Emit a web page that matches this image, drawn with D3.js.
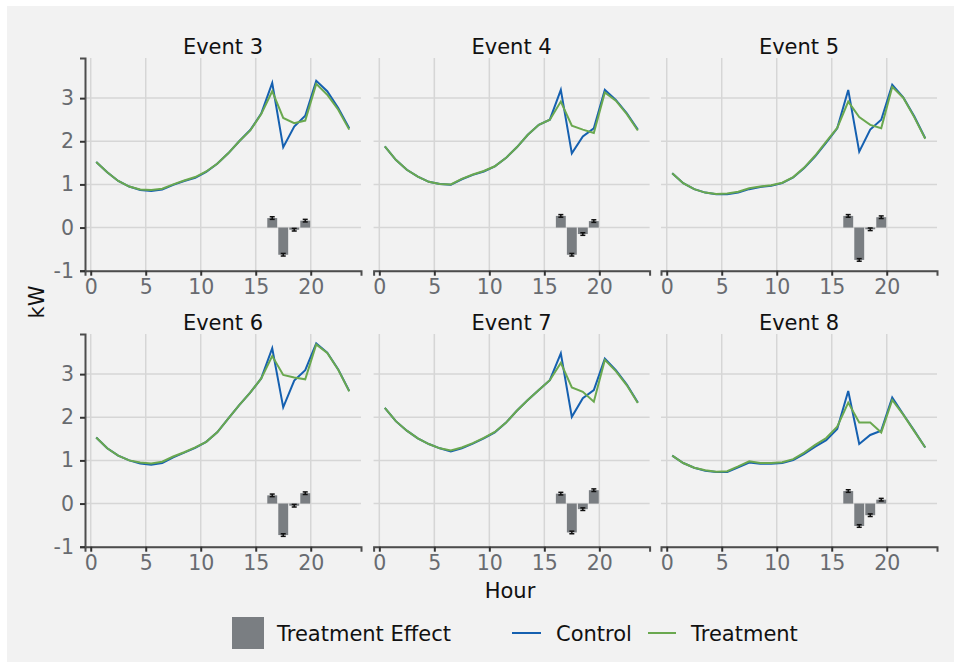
<!DOCTYPE html>
<html>
<head>
<meta charset="utf-8">
<script src="https://cdn.jsdelivr.net/npm/d3@7"></script>
<style>
  body { margin: 0; background: #fff; }
  svg { display: block; font-family: "DejaVu Sans", sans-serif; }
</style>
</head>
<body>
<svg id="chart" width="954" height="662"></svg>
<script>
// hourly load profiles, kW
const hours = [0.5, 1.5, 2.5, 3.5, 4.5, 5.5, 6.5, 7.5, 8.5, 9.5, 10.5, 11.5,
  12.5, 13.5, 14.5, 15.5, 16.5, 17.5, 18.5, 19.5, 20.5, 21.5, 22.5, 23.5];
const effectHours = [16.5, 17.5, 18.5, 19.5];
const eventNames = ["Event 3", "Event 4", "Event 5", "Event 6", "Event 7", "Event 8"];
const xTicks = [0, 5, 10, 15, 20];
const yTicks = [-1, 0, 1, 2, 3];

const control3 = [1.52, 1.28, 1.08, 0.95, 0.87, 0.85, 0.88, 0.99, 1.08, 1.15, 1.29, 1.48, 1.72, 2.0, 2.26, 2.64, 3.35, 1.86, 2.34, 2.59, 3.40, 3.16, 2.77, 2.30];
const treatment3 = [1.52, 1.28, 1.08, 0.95, 0.88, 0.87, 0.90, 1.00, 1.09, 1.17, 1.30, 1.48, 1.72, 2.0, 2.25, 2.63, 3.16, 2.54, 2.42, 2.48, 3.33, 3.08, 2.73, 2.27];
const effect3 = [0.22, -0.63, -0.05, 0.16];

const control4 = [1.88, 1.57, 1.34, 1.18, 1.06, 1.01, 0.99, 1.12, 1.22, 1.30, 1.42, 1.61, 1.86, 2.15, 2.38, 2.50, 3.19, 1.72, 2.11, 2.30, 3.19, 2.96, 2.65, 2.27];
const treatment4 = [1.88, 1.57, 1.34, 1.18, 1.06, 1.01, 1.00, 1.13, 1.23, 1.31, 1.42, 1.61, 1.86, 2.15, 2.38, 2.50, 2.92, 2.36, 2.27, 2.19, 3.13, 2.94, 2.63, 2.25];
const effect4 = [0.27, -0.63, -0.15, 0.15];

const control5 = [1.26, 1.03, 0.89, 0.81, 0.77, 0.77, 0.81, 0.89, 0.94, 0.97, 1.03, 1.16, 1.38, 1.65, 1.97, 2.30, 3.19, 1.76, 2.27, 2.50, 3.31, 3.02, 2.58, 2.07];
const treatment5 = [1.26, 1.03, 0.89, 0.81, 0.78, 0.79, 0.83, 0.91, 0.95, 0.98, 1.04, 1.17, 1.39, 1.67, 1.99, 2.31, 2.92, 2.56, 2.38, 2.30, 3.26, 3.01, 2.56, 2.06];
const effect5 = [0.27, -0.75, -0.04, 0.24];

const control6 = [1.53, 1.28, 1.11, 1.00, 0.93, 0.90, 0.94, 1.07, 1.18, 1.29, 1.43, 1.65, 1.97, 2.28, 2.57, 2.90, 3.60, 2.23, 2.85, 3.09, 3.71, 3.50, 3.11, 2.61];
const treatment6 = [1.53, 1.28, 1.11, 1.00, 0.95, 0.93, 0.97, 1.09, 1.19, 1.30, 1.43, 1.65, 1.97, 2.28, 2.57, 2.90, 3.42, 2.98, 2.92, 2.88, 3.69, 3.49, 3.10, 2.60];
const effect6 = [0.19, -0.73, -0.05, 0.24];

const control7 = [2.22, 1.91, 1.69, 1.51, 1.38, 1.28, 1.21, 1.28, 1.39, 1.51, 1.65, 1.87, 2.15, 2.40, 2.63, 2.86, 3.48, 2.01, 2.44, 2.63, 3.36, 3.09, 2.76, 2.34];
const treatment7 = [2.22, 1.91, 1.69, 1.51, 1.38, 1.28, 1.23, 1.30, 1.40, 1.52, 1.66, 1.87, 2.15, 2.40, 2.63, 2.86, 3.26, 2.69, 2.59, 2.36, 3.33, 3.07, 2.74, 2.33];
const effect7 = [0.23, -0.67, -0.13, 0.31];

const control8 = [1.11, 0.94, 0.83, 0.76, 0.73, 0.73, 0.84, 0.95, 0.92, 0.92, 0.94, 1.01, 1.15, 1.32, 1.47, 1.73, 2.61, 1.38, 1.59, 1.69, 2.46, 2.07, 1.69, 1.30];
const treatment8 = [1.11, 0.94, 0.83, 0.77, 0.74, 0.75, 0.86, 0.98, 0.94, 0.94, 0.96, 1.03, 1.18, 1.36, 1.52, 1.78, 2.34, 1.88, 1.88, 1.65, 2.40, 2.06, 1.68, 1.30];
const effect8 = [0.29, -0.52, -0.27, 0.09];

// standard error of the treatment effect (tiny bars in the picture)
const effectErr = [0.03, 0.03, 0.03, 0.03];

const panels = [
  { name: eventNames[0], control: control3, treatment: treatment3, effect: effect3 },
  { name: eventNames[1], control: control4, treatment: treatment4, effect: effect4 },
  { name: eventNames[2], control: control5, treatment: treatment5, effect: effect5 },
  { name: eventNames[3], control: control6, treatment: treatment6, effect: effect6 },
  { name: eventNames[4], control: control7, treatment: treatment7, effect: effect7 },
  { name: eventNames[5], control: control8, treatment: treatment8, effect: effect8 },
];

const blue = "#1560b0", green = "#6aa84f", barGrey = "#7a7e82";
const gridCol = "#d6d6d6", axisCol = "#4d4d4d", tickText = "#686b70";

const svg = d3.select("#chart");
svg.append("rect").attr("x", 7).attr("y", 6).attr("width", 947).attr("height", 656).attr("fill", "#f2f2f2");

const panelW = 276, panelH = 212.7;
const colX = [85, 373.6, 661], rowY = [58, 334];

const x = d3.scaleLinear().domain([-0.52, 24.57]).range([0, panelW]);
const y = d3.scaleLinear().domain([-1, 3.93]).range([panelH, 0]);

panels.forEach(function (p, i) {
  const col = i % 3, row = Math.floor(i / 3);
  const g = svg.append("g").attr("transform", `translate(${colX[col]},${rowY[row]})`);

  // grid
  g.selectAll("line.vg").data(xTicks).join("line")
    .attr("x1", d => x(d)).attr("x2", d => x(d)).attr("y1", 0).attr("y2", panelH)
    .attr("stroke", gridCol).attr("stroke-width", 1.5);
  g.selectAll("line.hg").data(yTicks).join("line")
    .attr("x1", 0).attr("x2", panelW).attr("y1", d => y(d)).attr("y2", d => y(d))
    .attr("stroke", gridCol).attr("stroke-width", 1.5);

  // treatment effect bars + error bars
  const bw = x(0.9) - x(0);
  g.selectAll("rect.bar").data(p.effect).join("rect")
    .attr("x", (d, k) => x(effectHours[k]) - bw / 2)
    .attr("y", d => y(Math.max(0, d)))
    .attr("width", bw)
    .attr("height", d => Math.abs(y(d) - y(0)))
    .attr("fill", barGrey);
  const cap = 2.5;
  p.effect.forEach(function (d, k) {
    const cx = x(effectHours[k]);
    const lo = y(d - effectErr[k]), hi = y(d + effectErr[k]);
    g.append("line").attr("x1", cx).attr("x2", cx).attr("y1", lo).attr("y2", hi)
      .attr("stroke", "#111").attr("stroke-width", 1.5);
    [lo, hi].forEach(v => g.append("line").attr("x1", cx - cap).attr("x2", cx + cap)
      .attr("y1", v).attr("y2", v).attr("stroke", "#111").attr("stroke-width", 1.5));
  });

  // load lines
  const line = d3.line().x((d, k) => x(hours[k])).y(d => y(d));
  g.append("path").datum(p.control).attr("d", line)
    .attr("fill", "none").attr("stroke", blue).attr("stroke-width", 2);
  g.append("path").datum(p.treatment).attr("d", line)
    .attr("fill", "none").attr("stroke", green).attr("stroke-width", 2);

  // x axis
  const xa = g.append("g").attr("transform", `translate(0,${panelH})`)
    .call(d3.axisBottom(x).tickValues(xTicks).tickFormat(d => String(d)).tickSize(5).tickPadding(4));
  xa.select(".domain").attr("stroke", axisCol).attr("stroke-width", 2);
  xa.selectAll(".tick line").attr("stroke", "#333").attr("stroke-width", 2);
  xa.selectAll(".tick text").attr("fill", tickText).attr("font-size", 20.5)
    .attr("font-family", "DejaVu Sans");

  // y axis only on first column
  if (col === 0) {
    const ya = g.append("g")
      .call(d3.axisLeft(y).tickValues(yTicks).tickFormat(d => String(d)).tickSize(5).tickPadding(6));
    ya.select(".domain").attr("stroke", axisCol).attr("stroke-width", 2);
    ya.selectAll(".tick line").attr("stroke", "#333").attr("stroke-width", 2);
    ya.selectAll(".tick text").attr("fill", tickText).attr("font-size", 20.5)
      .attr("font-family", "DejaVu Sans");
  }

  // title
  g.append("text").attr("x", panelW / 2).attr("y", -4)
    .attr("text-anchor", "middle").attr("font-size", 21).attr("fill", "#111")
    .text(p.name);
});

// axis titles
svg.append("text").attr("x", 510).attr("y", 598).attr("text-anchor", "middle")
  .attr("font-size", 21).attr("fill", "#111").text("Hour");
svg.append("text").attr("transform", "translate(44,302) rotate(-90)")
  .attr("text-anchor", "middle").attr("font-size", 21).attr("fill", "#111").text("kW");

// legend
const lg = svg.append("g");
lg.append("rect").attr("x", 232).attr("y", 617).attr("width", 32).attr("height", 32).attr("fill", barGrey);
lg.append("text").attr("x", 277).attr("y", 641).attr("font-size", 21).attr("fill", "#111").text("Treatment Effect");
lg.append("line").attr("x1", 512).attr("x2", 541).attr("y1", 633).attr("y2", 633).attr("stroke", blue).attr("stroke-width", 2);
lg.append("text").attr("x", 556).attr("y", 641).attr("font-size", 21).attr("fill", "#111").text("Control");
lg.append("line").attr("x1", 648).attr("x2", 676).attr("y1", 633).attr("y2", 633).attr("stroke", green).attr("stroke-width", 2);
lg.append("text").attr("x", 691).attr("y", 641).attr("font-size", 21).attr("fill", "#111").text("Treatment");
</script>
</body>
</html>
